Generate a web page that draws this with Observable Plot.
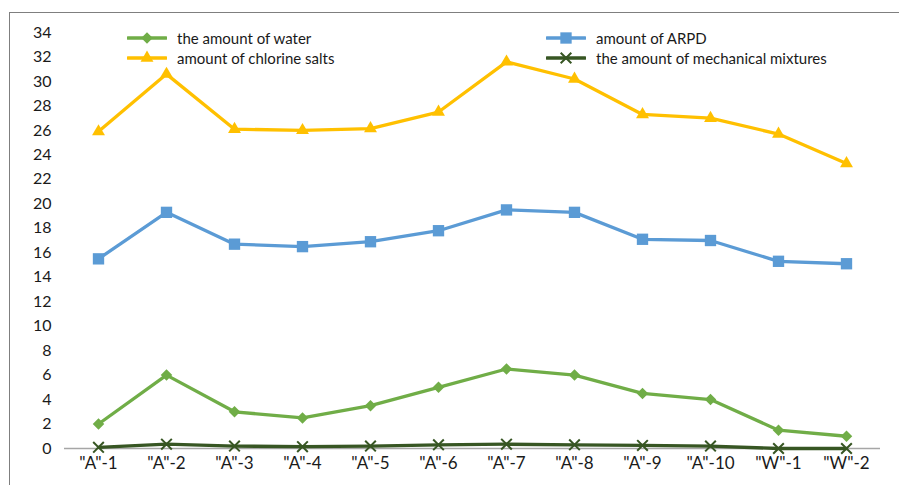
<!DOCTYPE html>
<html><head><meta charset="utf-8">
<script src="https://cdn.jsdelivr.net/npm/d3@7"></script>
<script src="https://cdn.jsdelivr.net/npm/@observablehq/plot@0.6"></script>
<style>
body{margin:0;background:#fff;}
#wrap{position:relative;width:899px;height:485px;overflow:hidden;font-family:Lato,sans-serif;background:#fff;}
#frame{position:absolute;left:9px;top:12px;width:1000px;height:600px;border-left:1px solid #7f7f7f;border-top:1px solid #7f7f7f;}
#chart{position:absolute;left:0;top:0;}
.item{position:absolute;display:flex;align-items:center;font-size:15px;color:#1a1a1a;height:20px;white-space:nowrap;}
.item svg{margin-right:10px;}
</style></head><body>
<div id="wrap"><div id="frame"></div><div id="chart"></div><div id="legend"></div></div>
<script>
const categories = ['"A"-1','"A"-2','"A"-3','"A"-4','"A"-5','"A"-6','"A"-7','"A"-8','"A"-9','"A"-10','"W"-1','"W"-2'];
const seriesNames = ["the amount of water","amount of ARPD","amount of chlorine salts","the amount of mechanical mixtures"];
const water    = [2, 6, 3, 2.5, 3.5, 5, 6.5, 6, 4.5, 4, 1.5, 1];
const arpd     = [15.5, 19.3, 16.7, 16.5, 16.9, 17.8, 19.5, 19.3, 17.1, 17.0, 15.3, 15.1];
const chlorine = [25.9, 30.6, 26.1, 26.0, 26.15, 27.5, 31.6, 30.2, 27.3, 27.0, 25.7, 23.3];
const mech     = [0.1, 0.35, 0.2, 0.15, 0.2, 0.3, 0.35, 0.3, 0.25, 0.2, 0, 0];
const yTicks = d3.range(0, 35, 2);

const colors = ["#70ad47","#5b9bd5","#ffc000","#375623"];
const symbols = ["diamond2","square","triangle","times"];
const dotR = [5.2, 6.4, 4.8, 4.9];
const d3Symbols = [d3.symbolDiamond2, d3.symbolSquare, d3.symbolTriangle, d3.symbolTimes];

const allValues = [water, arpd, chlorine, mech];
const rows = [];
allValues.forEach((vals, s) => vals.forEach((v, i) => rows.push({cat: categories[i], value: v, series: seriesNames[s]})));

const marks = [Plot.ruleY([0], {stroke:"#a6a6a6", strokeWidth:1.5})];
seriesNames.forEach((name, s) => {
  const data = rows.filter(d => d.series === name);
  marks.push(Plot.line(data, {x:"cat", y:"value", stroke: colors[s], strokeWidth:3.3}));
  if (symbols[s] === "times") {
    marks.push(Plot.dot(data, {x:"cat", y:"value", symbol:"times", r: dotR[s], stroke: colors[s], strokeWidth:2}));
  } else {
    marks.push(Plot.dot(data, {x:"cat", y:"value", symbol: symbols[s], r: dotR[s], fill: colors[s], stroke:"none"}));
  }
});

const chart = Plot.plot({
  width: 899, height: 485,
  marginLeft: 64, marginRight: 19, marginTop: 32, marginBottom: 37,
  style: {fontFamily: "Lato, sans-serif", fontSize: "16px", color: "#1a1a1a", background: "transparent"},
  x: {type: "point", domain: categories, padding: 0.5, tickSize: 0, tickPadding: 8, label: null},
  y: {domain: [0, 34], ticks: yTicks, tickSize: 0, tickPadding: 13, label: null, tickFormat: d3.format("d")},
  marks
});
// slightly larger category labels, like the reference
d3.select(chart).selectAll("[aria-label='x-axis tick label'] text, g[aria-label='x-axis'] text").style("font-size", "17px");
document.getElementById("chart").appendChild(chart);

// legend (two columns, two rows inside plot area)
const legendPos = [[127, 28], [546, 28], [127, 48], [546, 48]];
const legend = document.getElementById("legend");
seriesNames.forEach((name, s) => {
  const div = document.createElement("div");
  div.className = "item";
  div.style.left = legendPos[s][0] + "px";
  div.style.top = legendPos[s][1] + "px";
  const svg = d3.create("svg").attr("width", 40).attr("height", 20);
  svg.append("line").attr("x1", 1).attr("x2", 39).attr("y1", 10).attr("y2", 10)
     .attr("stroke", colors[s]).attr("stroke-width", 3.5).attr("stroke-linecap", "round");
  const size = Math.PI * dotR[s] * dotR[s];
  const p = svg.append("path").attr("transform", "translate(20,10)").attr("d", d3.symbol(d3Symbols[s], size)());
  if (symbols[s] === "times") p.attr("fill", "none").attr("stroke", colors[s]).attr("stroke-width", 2);
  else p.attr("fill", colors[s]);
  div.appendChild(svg.node());
  const span = document.createElement("span");
  span.textContent = name;
  div.appendChild(span);
  legend.appendChild(div);
});
</script>
</body></html>
